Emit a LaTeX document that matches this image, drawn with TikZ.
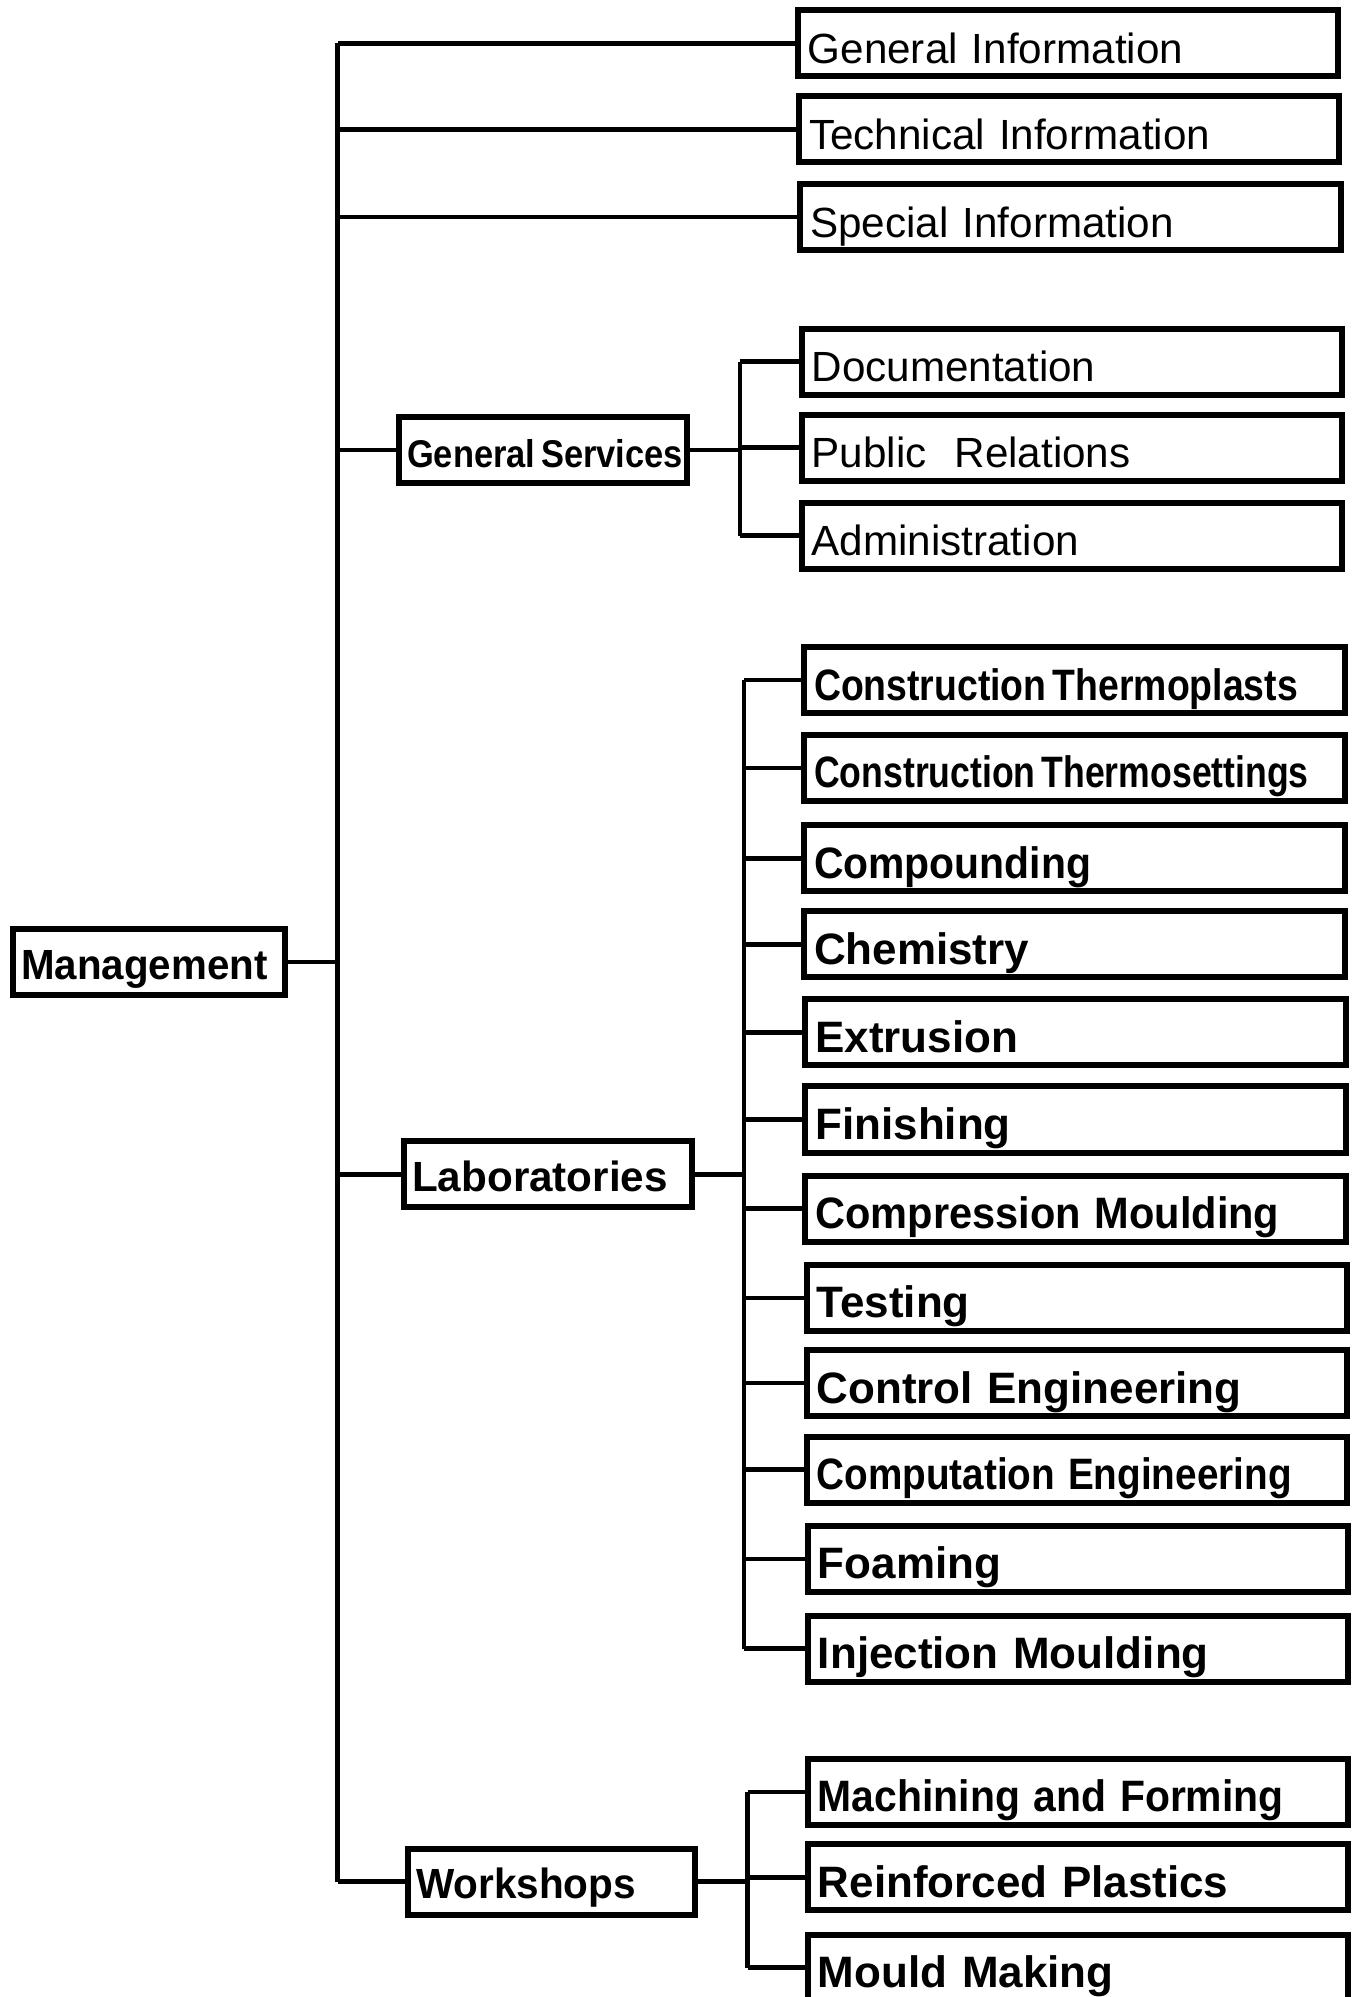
\documentclass[tikz,border=0pt]{standalone}
\usepackage{fontspec}
\setmainfont{Liberation Sans}
\usepackage{graphicx}
\usepackage{tikz}
\usetikzlibrary{positioning,calc}

% squeeze a label sideways, as the typed labels are narrower
\newcommand{\sqz}[2]{\scalebox{#1}[1]{#2}}

\begin{document}
\begin{tikzpicture}[x=0.012732cm,y=-0.012732cm,line width=1.3pt,
	unit/.style={draw,line width=1.7pt,rectangle,anchor=west,inner xsep=0.1cm,inner ysep=0pt,
		text width=5.2cm,align=left,text height=0.53cm,text depth=0.13cm,
		font=\fontsize{12}{14}\selectfont},
	lab/.style={unit,font=\fontsize{12.5}{14}\selectfont\bfseries},
	dept/.style={draw,line width=1.7pt,rectangle,anchor=west,inner xsep=0.08cm,inner ysep=0pt,
		align=left,text height=0.5cm,text depth=0.16cm,font=\fontsize{12}{14}\selectfont\bfseries}]
		\useasboundingbox (0,0) rectangle (1065,1568);

		% top level
		\node[dept,text width=2.56cm] (mgmt) at (8,755.5) {\sqz{0.955}{Management}};
		\node[dept,text width=2.72cm,font=\fontsize{11}{12}\selectfont\bfseries] (gs) at (311,353.5) {\sqz{0.89}{General\,Services}};
		\node[dept,text width=2.72cm] (lab) at (315,922) {Laboratories};
		\node[dept,text width=2.71cm] (ws) at (318,1477.5) {\sqz{0.96}{Workshops}};

		% information
		\node[unit] (gi) at (624,34) {General Information};
		\node[unit] (ti) at (625,101.5) {Technical Information};
		\node[unit] (si) at (626,170.5) {Special Information};

		% general services
		\node[unit] (doc) at (627,284) {Documentation};
		\node[unit] (pr) at (627,351.5) {Public\ \ Relations};
		\node[unit] (adm) at (627,420.5) {Administration};

		% laboratories
		\node[lab] (ctp) at (629,534) {\sqz{0.85}{Construction\,Thermoplasts}};
		\node[lab] (cts) at (629,603) {\sqz{0.81}{Construction\,Thermosettings}};
		\node[lab] (cmp) at (629,674) {\sqz{0.93}{Compounding}};
		\node[lab] (chem) at (629,741.5) {Chemistry};
		\node[lab] (ext) at (630,810.5) {Extrusion};
		\node[lab] (fin) at (630,879) {Finishing};
		\node[lab] (cmo) at (630,949) {\sqz{0.945}{Compression Moulding}};
		\node[lab] (test) at (631,1019) {Testing};
		\node[lab] (ce) at (631,1086) {Control Engineering};
		\node[lab] (cpe) at (631,1154) {\sqz{0.88}{Computation Engineering}};
		\node[lab] (foam) at (632,1224) {Foaming};
		\node[lab] (inj) at (632,1294.5) {Injection Moulding};

		% workshops
		\node[lab] (maf) at (632,1407) {\sqz{0.93}{Machining and Forming}};
		\node[lab] (rp) at (632,1474) {Reinforced Plastics};
		\node[lab] (mm) at (632,1545) {Mould Making};

		\coordinate (spine) at (265,755.5);
		\coordinate (gsbar) at (581,353.5);
		\coordinate (labbar) at (584,922);
		\coordinate (wsbar) at (587,1477.5);

		% management spine
		\draw (mgmt.east) -- (spine);
		\draw (spine |- gi.west) -- (spine |- ws.west);
		\draw (spine |- gi.west) -- (gi.west);
		\draw (spine |- ti.west) -- (ti.west);
		\draw (spine |- si.west) -- (si.west);
		\draw (spine |- gs.west) -- (gs.west);
		\draw (spine |- lab.west) -- (lab.west);
		\draw (spine |- ws.west) -- (ws.west);

		% general services
		\draw (gs.east) -- (gsbar);
		\draw (gsbar |- doc.west) -- (gsbar |- adm.west);
		\draw (gsbar |- doc.west) -- (doc.west);
		\draw (gsbar |- pr.west) -- (pr.west);
		\draw (gsbar |- adm.west) -- (adm.west);

		% laboratories
		\draw (lab.east) -- (labbar);
		\draw (labbar |- ctp.west) -- (labbar |- inj.west);
		\draw (labbar |- ctp.west) -- (ctp.west);
		\draw (labbar |- cts.west) -- (cts.west);
		\draw (labbar |- cmp.west) -- (cmp.west);
		\draw (labbar |- chem.west) -- (chem.west);
		\draw (labbar |- ext.west) -- (ext.west);
		\draw (labbar |- fin.west) -- (fin.west);
		\draw (labbar |- cmo.west) -- (cmo.west);
		\draw (labbar |- test.west) -- (test.west);
		\draw (labbar |- ce.west) -- (ce.west);
		\draw (labbar |- cpe.west) -- (cpe.west);
		\draw (labbar |- foam.west) -- (foam.west);
		\draw (labbar |- inj.west) -- (inj.west);

		% workshops
		\draw (ws.east) -- (wsbar);
		\draw (wsbar |- maf.west) -- (wsbar |- mm.west);
		\draw (wsbar |- maf.west) -- (maf.west);
		\draw (wsbar |- rp.west) -- (rp.west);
		\draw (wsbar |- mm.west) -- (mm.west);
\end{tikzpicture}
\end{document}
